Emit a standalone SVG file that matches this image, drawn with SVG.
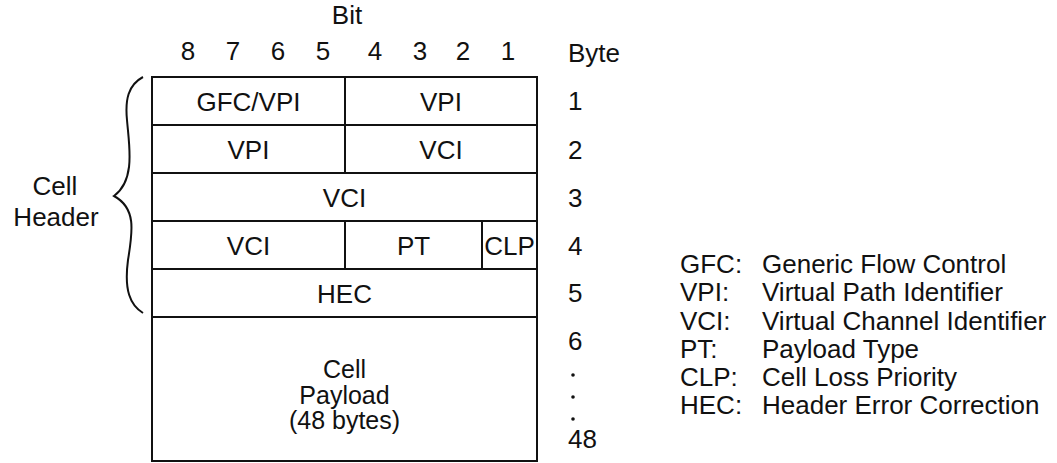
<svg xmlns="http://www.w3.org/2000/svg" width="1057" height="463" viewBox="0 0 1057 463">
<style>
text{font-family:"Liberation Sans",Arial,sans-serif;font-size:26px;fill:#111}
.c{text-anchor:middle}
.p{font-size:25px}
.box{fill:#fff;stroke:#111;stroke-width:2}
.ln{stroke:#111;stroke-width:2;fill:none}
</style>
<rect width="1057" height="463" fill="#fff"/>
<g id="bit-header">
<text class="c" x="347" y="24">Bit</text>
<text class="c" x="188" y="60">8</text>
<text class="c" x="233" y="60">7</text>
<text class="c" x="278" y="60">6</text>
<text class="c" x="323" y="60">5</text>
<text class="c" x="375" y="60">4</text>
<text class="c" x="420" y="60">3</text>
<text class="c" x="463" y="60">2</text>
<text class="c" x="508" y="60">1</text>
</g>
<g id="byte-labels">
<text x="568" y="62">Byte</text>
<text x="568" y="110">1</text>
<text x="568" y="159">2</text>
<text x="568" y="207">3</text>
<text x="568" y="255">4</text>
<text x="568" y="302">5</text>
<text x="568" y="350">6</text>
<circle cx="573" cy="375" r="1.8" fill="#111"/>
<circle cx="573" cy="397" r="1.8" fill="#111"/>
<circle cx="573" cy="419" r="1.8" fill="#111"/>
<text x="568" y="448">48</text>
</g>
<g id="row1">
<rect class="box" x="152" y="77" width="193" height="48"/>
<rect class="box" x="345" y="77" width="192" height="48"/>
<text class="c" x="248.5" y="111">GFC/VPI</text>
<text class="c" x="441" y="111">VPI</text>
</g>
<g id="row2">
<rect class="box" x="152" y="125" width="193" height="48"/>
<rect class="box" x="345" y="125" width="192" height="48"/>
<text class="c" x="248.5" y="159">VPI</text>
<text class="c" x="441" y="159">VCI</text>
</g>
<g id="row3">
<rect class="box" x="152" y="173" width="385" height="48"/>
<text class="c" x="344.5" y="207">VCI</text>
</g>
<g id="row4">
<rect class="box" x="152" y="221" width="193" height="48"/>
<rect class="box" x="345" y="221" width="137" height="48"/>
<rect class="box" x="482" y="221" width="55" height="48"/>
<text class="c" x="248.5" y="255">VCI</text>
<text class="c" x="413.5" y="255">PT</text>
<text class="c" x="509.5" y="255">CLP</text>
</g>
<g id="row5">
<rect class="box" x="152" y="269" width="385" height="48"/>
<text class="c" x="344.5" y="303">HEC</text>
</g>
<g id="payload">
<rect class="box" x="152" y="317" width="385" height="144"/>
<text class="c p" x="344.5" y="378">Cell</text>
<text class="c p" x="344.5" y="403.5">Payload</text>
<text class="c p" x="344.5" y="429">(48 bytes)</text>
</g>
<g id="cell-header">
<path class="ln" stroke-width="2.5" d="M143,77 C128,85 125,100 127,120 C129,145 136,180 114,196 C136,208 133,230 128,260 C124,290 130,305 143,313"/>
<text class="c" x="55" y="195">Cell</text>
<text class="c" x="56" y="226">Header</text>
</g>
<g id="legend">
<text x="680" y="273">GFC:</text><text x="762" y="273">Generic Flow Control</text>
<text x="680" y="301">VPI:</text><text x="762" y="301">Virtual Path Identifier</text>
<text x="680" y="330">VCI:</text><text x="762" y="330">Virtual Channel Identifier</text>
<text x="680" y="358">PT:</text><text x="762" y="358">Payload Type</text>
<text x="680" y="386">CLP:</text><text x="762" y="386">Cell Loss Priority</text>
<text x="680" y="414">HEC:</text><text x="762" y="414">Header Error Correction</text>
</g>
</svg>
